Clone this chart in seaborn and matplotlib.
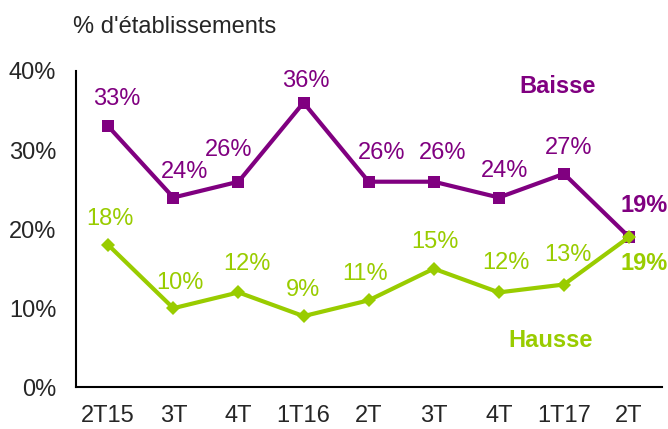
import matplotlib
matplotlib.use("Agg")
import matplotlib.pyplot as plt
import seaborn as sns
import pandas as pd
import numpy as np

# donnees
periodes = ["2T15", "3T", "4T", "1T16", "2T", "3T", "4T", "1T17", "2T"]
baisse = [33, 24, 26, 36, 26, 26, 24, 27, 19]
hausse = [18, 10, 12, 9, 11, 15, 12, 13, 19]

VIOLET = "#800080"
VERT = "#99CC00"
FS = 17

sns.set_style("white")
plt.rcParams["font.family"] = ["Liberation Sans", "DejaVu Sans"]

df = pd.DataFrame({
    "pos": list(range(len(periodes))) * 2,
    "valeur": baisse + hausse,
    "serie": ["Baisse"] * len(baisse) + ["Hausse"] * len(hausse),
})

fig = plt.figure(figsize=(6.68, 4.29), dpi=100)
ax = fig.add_axes([0.1133, 0.0972, 0.8772, 0.7373])

sns.lineplot(data=df[df.serie == "Baisse"], x="pos", y="valeur", ax=ax,
             color=VIOLET, lw=3, marker="s", markersize=9, markeredgewidth=0)
sns.lineplot(data=df[df.serie == "Hausse"], x="pos", y="valeur", ax=ax,
             color=VERT, lw=3, marker="D", markersize=7, markeredgewidth=0)

# etiquettes de valeurs (decalages en points, ligne de base)
dec_b = [(6.0, 15.1), (7.9, 14.2), (-7.2, 18.5), (1.7, 11.3), (9.1, 16.3),
         (6.5, 16.3), (4.1, 15.1), (3.5, 14.2), (10.8, 18.3)]
dec_h = [(1.2, 14.2), (4.8, 13.5), (5.8, 16.1), (-0.7, 14.7), (-2.4, 14.5),
         (0.5, 14.6), (4.8, 16.6), (3.1, 17.1), (10.6, -23.5)]
for serie, vals, dec, col in [("Baisse", baisse, dec_b, VIOLET), ("Hausse", hausse, dec_h, VERT)]:
    for i, v in enumerate(vals):
        last = i == len(vals) - 1
        ax.annotate("%d%%" % v, (i, v), xytext=dec[i], textcoords="offset points",
                    ha="center", va="baseline", color=col, fontsize=FS,
                    fontweight="bold" if last else "normal")

ax.text(6.9, 37.2, "Baisse", color=VIOLET, fontsize=FS, fontweight="bold",
        ha="center", va="baseline")
ax.text(6.8, 5.15, "Hausse", color=VERT, fontsize=FS, fontweight="bold",
        ha="center", va="baseline")

ax.set_xlim(-0.5, len(periodes) - 0.5)
ax.set_ylim(0, 40)
ax.set_yticks([0, 10, 20, 30, 40])
ax.set_yticklabels(["%d%%" % t for t in [0, 10, 20, 30, 40]], fontsize=FS)
ax.set_xticks(range(len(periodes)))
ax.set_xticklabels(periodes, fontsize=FS)
ax.set_xticks(np.arange(-0.5, len(periodes)), minor=True)
ax.tick_params(axis="x", which="major", length=0, pad=13)
ax.tick_params(axis="x", which="minor", length=5, width=1.5, direction="out", color="black")
ax.tick_params(axis="y", which="major", length=5, width=1.5, direction="out", color="black", pad=9)
ax.set_xlabel("")
ax.set_ylabel("")

for s in ["top", "right"]:
    ax.spines[s].set_visible(False)
for s in ["left", "bottom"]:
    ax.spines[s].set_color("black")
    ax.spines[s].set_linewidth(1.5)

fig.text(0.11, 0.923, "% d'établissements", fontsize=FS, ha="left", va="baseline")

plt.savefig("out.png", dpi=100)
